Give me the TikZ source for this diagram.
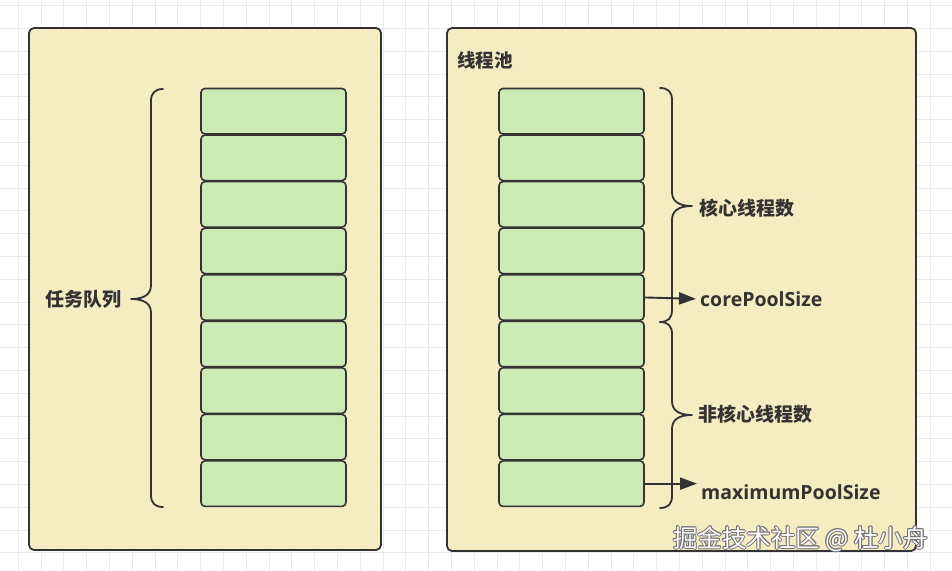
\documentclass[tikz,border=0pt]{standalone}
\usepackage{fontspec}
\usetikzlibrary{arrows.meta}
\newfontfamily\cjk{Noto Sans CJK SC}
\newfontfamily\latf{Open Sans}
\definecolor{poolfill}{HTML}{F5ECC2}
\definecolor{slotfill}{HTML}{CCEAB4}
\definecolor{edge}{HTML}{333333}
\definecolor{gridc}{HTML}{EAEAEA}
\begin{document}
\begin{tikzpicture}[x=1pt,y=-1pt,
  gridline/.style={gridc, line width=0.9pt},
  pool/.style={draw=edge, fill=poolfill, line width=1.8pt, rounded corners=5pt},
  slot/.style={draw=edge, fill=slotfill, line width=1.6pt, rounded corners=4pt,
    minimum width=145pt, minimum height=45.5pt, inner sep=0pt},
  brace/.style={draw=edge, line width=1.8pt, line cap=round, line join=round},
  lab/.style={font=\cjk\bfseries\fontsize{19}{19}\selectfont, text=edge, inner sep=0pt, anchor=west},
  latlab/.style={font=\latf\bfseries\fontsize{19.5}{19.5}\selectfont, text=edge, inner sep=0pt, anchor=west},
  arr/.style={draw=edge, line width=1.9pt, -{Triangle[length=17pt,width=12pt]}, shorten >=4pt},
  wm/.style={font=\cjk\fontsize{24.5}{24.5}\selectfont, inner sep=0pt, anchor=west}
]
\useasboundingbox (0,0) rectangle (952,570);
\fill[white] (0,0) rectangle (952,570);
% grid
\foreach \i in {0,...,41} {
  \draw[gridline] ({18.3+22.8*\i},0) -- ({18.3+22.8*\i},570);
}
\foreach \j in {0,...,24} {
  \draw[gridline] (0,{5.6+22.8*\j}) -- (952,{5.6+22.8*\j});
}
% containers
\draw[pool] (29,28) rectangle (381,550);
\draw[pool] (447,28) rectangle (916,551);
% slots
\foreach \k in {1,...,9} {
  \node[slot] (l\k) at (273.5,{111.25+46.55*(\k-1)}) {};
  \node[slot] (r\k) at (571.5,{111.25+46.55*(\k-1)}) {};
}
% labels
\node[lab] (queue) at (45,299) {任务队列};
\node[lab, font=\cjk\bfseries\fontsize{18.5}{18.5}\selectfont] (title) at (457,60) {线程池};
\node[lab] (core) at (699,208) {核心线程数};
\node[latlab] (corel) at (700,299) {corePoolSize};
\node[lab] (noncore) at (698,414) {非核心线程数};
\node[latlab] (maxl) at (701,492) {maximumPoolSize};
% braces
\draw[brace] (163,89) .. controls (155,89) and (151,93) .. (151,101) -- (151,285)
  .. controls (151,293) and (146,299) .. (131,299)
  .. controls (146,299) and (151,305) .. (151,313) -- (151,495)
  .. controls (151,503) and (155,507) .. (163,507);
\draw[brace] (660,88) .. controls (668,88) and (672,92) .. (672,100) -- (672,192)
  .. controls (672,200) and (677,206) .. (692,206)
  .. controls (677,206) and (672,212) .. (672,220) -- (672,310)
  .. controls (672,318) and (668,322) .. (660,322);
\draw[brace] (660,322) .. controls (668,322) and (672,326) .. (672,334) -- (672,401)
  .. controls (672,409) and (677,415) .. (692,415)
  .. controls (677,415) and (672,421) .. (672,429) -- (672,496)
  .. controls (672,504) and (668,508) .. (660,508);
% arrows
\draw[arr] (r5.east) -- (corel.west);
\draw[arr] (r9.east) -- (r9.east -| maxl.west);
% watermark
\foreach \dx/\dy in {-0.9/0,0.9/0,0/-0.9,0/0.9,-0.7/-0.7,0.7/0.7,-0.7/0.7,0.7/-0.7} {
  \node[wm, text=black!55] at ({673+\dx},{539+\dy}) {掘金技术社区 @ 杜小舟};
}
\node[wm, text=white] (mark) at (673,539) {掘金技术社区 @ 杜小舟};
\end{tikzpicture}
\end{document}
